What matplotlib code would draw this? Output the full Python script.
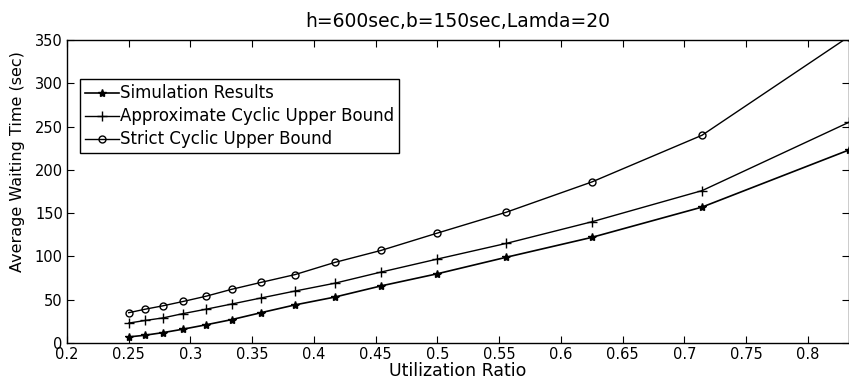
import numpy as np
import matplotlib
matplotlib.use('Agg')
import matplotlib.pyplot as plt

plt.rcParams['font.family'] = ['DejaVu Sans']

# utilization ratio
util = [0.25, 0.2632, 0.2778, 0.2941, 0.3125, 0.3333, 0.3571, 0.3846,
        0.4167, 0.4545, 0.5, 0.5556, 0.625, 0.7143, 0.8333]

sim_results = [7, 9, 12, 16, 21, 27, 35, 44, 53, 66, 80, 99, 122, 157, 223]
approx_bound = [23, 26, 29, 34, 39, 45, 52, 60, 69, 82, 97, 115, 140, 176, 255]
strict_bound = [35, 39, 43, 48, 54, 62, 70, 79, 93, 107, 127, 151, 186, 240, 354]

x_ticks = [0.2, 0.25, 0.3, 0.35, 0.4, 0.45, 0.5, 0.55, 0.6, 0.65, 0.7, 0.75, 0.8]
x_labels = ["0.2", "0.25", "0.3", "0.35", "0.4", "0.45", "0.5", "0.55",
            "0.6", "0.65", "0.7", "0.75", "0.8"]
y_ticks = [0, 50, 100, 150, 200, 250, 300, 350]

fig = plt.figure(figsize=(8.49, 3.85), dpi=100)
ax = fig.add_axes([67 / 849, 1 - 343 / 385, (849 - 67) / 849, (343 - 40) / 385])

ax.plot(util, sim_results, color='black', lw=1.2, marker='*', ms=6,
        label='Simulation Results')
ax.plot(util, approx_bound, color='black', lw=1.0, marker='+', ms=7,
        markeredgewidth=1.0, label='Approximate Cyclic Upper Bound')
ax.plot(util, strict_bound, color='black', lw=1.0, marker='o', ms=5,
        mfc='none', markeredgewidth=1.0, label='Strict Cyclic Upper Bound')

ax.set_xlim(0.2, 0.8333)
ax.set_ylim(0, 350)
ax.set_xticks(x_ticks)
ax.set_xticklabels(x_labels)
ax.set_yticks(y_ticks)
ax.tick_params(direction='in', top=True, right=True, labelsize=10.5,
               length=5, width=0.8, pad=3)
for s in ax.spines.values():
    s.set_linewidth(1.0)

ax.set_title('h=600sec,b=150sec,Lamda=20', fontsize=13.5, pad=9)
ax.set_xlabel('Utilization Ratio', fontsize=12.5, labelpad=0)
ax.set_ylabel('Average Waiting Time (sec)', fontsize=11.5)
ax.yaxis.set_label_coords(-0.054, 0.60)

leg = ax.legend(loc='upper left', bbox_to_anchor=(0.017, 0.87), fontsize=12,
                handlelength=2.0, handletextpad=0.1, borderpad=0.3,
                labelspacing=0.3, fancybox=False, framealpha=1,
                edgecolor='black', borderaxespad=0)
leg.get_frame().set_linewidth(1.0)

fig.savefig('out.png', dpi=100)
